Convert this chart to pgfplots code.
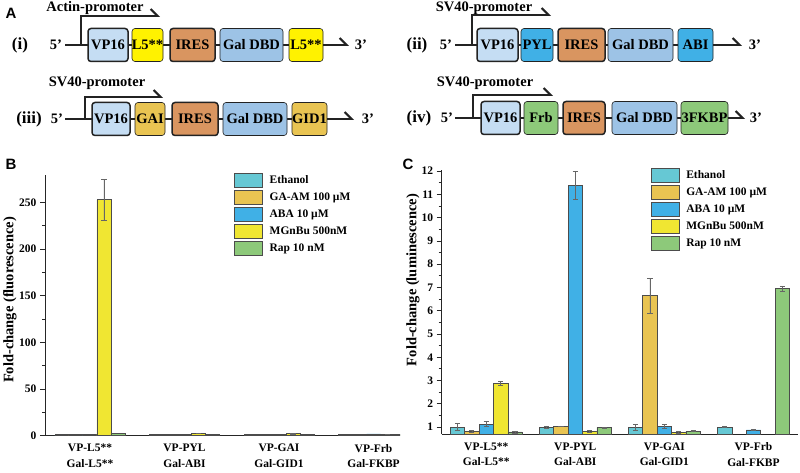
\documentclass[border=0pt]{standalone}
\usepackage{fontspec}
\setmainfont{Liberation Serif}
\newfontfamily\sansbf{Liberation Sans}
\usepackage{pgfplots}
\pgfplotsset{compat=1.18}
\usetikzlibrary{arrows.meta}
\definecolor{vpblue}{RGB}{197,221,243}
\definecolor{galblue}{RGB}{157,195,230}
\definecolor{iresc}{RGB}{217,149,96}
\definecolor{lyellow}{RGB}{255,242,0}
\definecolor{goldc}{RGB}{233,196,82}
\definecolor{pylc}{RGB}{64,176,230}
\definecolor{frbc}{RGB}{141,201,122}
\definecolor{ethc}{RGB}{102,200,212}
\definecolor{mgc}{RGB}{240,230,50}
\definecolor{linec}{RGB}{35,35,35}

% x1, x2, yc, fill, linewidth, text
\newcommand{\gbox}[6]{%
  \draw[rounded corners=3pt, fill=#4, draw=linec, line width=#5] (#1,#3-16.5) rectangle (#2,#3+16.5);
  \node[inner sep=0pt] at ({(#1+#2)/2},#3) {#6};}

\tikzset{harp/.style={line width=2pt, linec, -{Straight Barb[harpoon,length=7pt,width=14pt,line width=2pt]}}}

\pgfplotsset{
  errb/.style={/pgfplots/error bars/y dir=both, /pgfplots/error bars/y explicit,
    /pgfplots/error bars/error bar style={line width=0.6pt, black!60},
    /pgfplots/error bars/error mark options={rotate=90, mark size=2.6pt, line width=0.6pt, black!60}},
  barchart/.style={
    scale only axis,
    axis x line*=bottom, axis y line*=left,
    axis line style={line width=1pt, black!85},
    tick style={line width=0.8pt, black!85},
    tick align=outside, major tick length=5pt, minor tick length=3pt,
    ybar=0pt,
    legend image code/.code={\draw[##1, line width=0.6pt, draw=black!70] (0pt,-7pt) rectangle (28pt,7pt);},
    legend cell align=left,
    legend style={draw=none, fill=none, inner sep=0pt, row sep=2.5pt,
      nodes={inner sep=1pt},
      font=\bfseries\fontsize{11.5}{13}\selectfont,
      /tikz/every odd column/.append style={column sep=6pt}},
    /pgf/number format/assume math mode=true,
    yticklabel style={font=\bfseries\fontsize{11.5}{13}\selectfont},
    xticklabel style={font=\bfseries\fontsize{11.5}{15.5}\selectfont, align=center},
    xtick={0,1,2,3},
    xticklabels={{VP-L5**\\Gal-L5**},{VP-PYL\\Gal-ABI},{VP-GAI\\Gal-GID1},{VP-Frb\\Gal-FKBP}},
    major x tick style={draw=none},
    ylabel style={font=\bfseries\fontsize{14.5}{16}\selectfont, anchor=center},
  }
}

\begin{document}
\begin{tikzpicture}
\useasboundingbox (0,0) rectangle (800pt,-473pt);
\begin{scope}[x=1pt,y=-1pt, font=\bfseries\fontsize{14.5}{16}\selectfont]
  % panel letters
  \node[font=\sansbf\bfseries\fontsize{15}{17}\selectfont] at (11,13) {A};
  \node[font=\sansbf\bfseries\fontsize{15}{17}\selectfont] at (11,164) {B};
  \node[font=\sansbf\bfseries\fontsize{15}{17}\selectfont] at (408,164) {C};

  % ---------- row (i)
  \node[font=\bfseries\fontsize{17}{19}\selectfont] at (20,45) {(i)};
  \node at (56,45) {5'};
  \draw[line width=2pt, linec] (65,45) -- (90,45);
  \draw[line width=1.6pt, linec] (125,45) -- (292,45);
  \draw[harp] (81,45) -- (81,16) -- (160,16);
  \node at (95,8) {Actin-promoter};
  \gbox{88}{128}{45}{vpblue}{1.5pt}{VP16}
  \gbox{132}{163}{45}{lyellow}{0.6pt}{L5**}
  \gbox{170}{215}{45}{iresc}{1.5pt}{IRES}
  \gbox{220}{283}{45}{galblue}{0.6pt}{Gal DBD}
  \gbox{289}{323}{45}{lyellow}{0.6pt}{L5**}
  \draw[harp] (323,45) -- (349,45);
  \node at (361,45) {3'};

  % ---------- row (iii)
  \node[font=\bfseries\fontsize{17}{19}\selectfont] at (29,119) {(iii)};
  \node at (57,119) {5'};
  \draw[line width=2pt, linec] (65,119) -- (94,119);
  \draw[line width=1.6pt, linec] (128,119) -- (295,119);
  \draw[harp] (85,119) -- (85,97) -- (163,97);
  \node at (97,83) {SV40-promoter};
  \gbox{92}{130}{119}{vpblue}{1.5pt}{VP16}
  \gbox{135}{165}{119}{goldc}{0.6pt}{GAI}
  \gbox{172}{218}{119}{iresc}{1.5pt}{IRES}
  \gbox{223}{287}{119}{galblue}{0.6pt}{Gal DBD}
  \gbox{292}{327}{119}{goldc}{0.6pt}{GID1}
  \draw[harp] (327,119) -- (354,119);
  \node at (368,119) {3'};

  % ---------- row (ii)
  \node[font=\bfseries\fontsize{17}{19}\selectfont] at (417,45) {(ii)};
  \node at (446,45) {5'};
  \draw[line width=2pt, linec] (455,45) -- (479,45);
  \draw[line width=1.6pt, linec] (515,45) -- (681,45);
  \draw[harp] (472,45) -- (472,15) -- (551,15);
  \node at (484,8) {SV40-promoter};
  \gbox{477}{518}{45}{vpblue}{1.5pt}{VP16}
  \gbox{521}{553}{45}{pylc}{0.6pt}{PYL}
  \gbox{558}{605}{45}{iresc}{1.5pt}{IRES}
  \gbox{608}{673}{45}{galblue}{0.6pt}{Gal DBD}
  \gbox{678}{713}{45}{pylc}{0.6pt}{ABI}
  \draw[harp] (713,45) -- (742,45);
  \node at (755,45) {3'};

  % ---------- row (iv)
  \node[font=\bfseries\fontsize{17}{19}\selectfont] at (419,118) {(iv)};
  \node at (447,118) {5'};
  \draw[line width=2pt, linec] (455,118) -- (483,118);
  \draw[line width=1.6pt, linec] (517,118) -- (684,118);
  \draw[harp] (473,118) -- (473,95) -- (553,95);
  \node at (485,83) {SV40-promoter};
  \gbox{481}{520}{118}{vpblue}{1.5pt}{VP16}
  \gbox{524}{558}{118}{frbc}{0.6pt}{Frb}
  \gbox{563}{605}{118}{iresc}{1.5pt}{IRES}
  \gbox{612}{677}{118}{galblue}{0.6pt}{Gal DBD}
  \gbox{681}{728}{118}{frbc}{0.6pt}{3FKBP}
  \draw[harp] (728,118) -- (745,118);
  \node at (756,118) {3'};
\end{scope}

% ---------------- Panel B
\begin{axis}[barchart,
  at={(45pt,-435.7pt)}, anchor=south west,
  width=355pt, height=261.1pt,
  xmin=-0.476, xmax=3.28, ymin=0, ymax=280,
  bar width=14pt,
  ytick={0,50,100,150,200,250}, minor y tick num=1,
  ylabel={Fold-change (fluorescence)},
  ylabel style={at={(axis description cs:-0.099,0.52)}},
  legend style={at={(0.532,1.008)}, anchor=north west},
]
\addplot[fill=ethc, draw=black!70, line width=0.6pt] coordinates {(0,1) (1,1) (2,1) (3,1)};
\addplot[fill=goldc, draw=black!70, line width=0.6pt] coordinates {(0,1) (1,1) (2,1.5) (3,1.6)};
\addplot[fill=pylc, draw=black!70, line width=0.6pt] coordinates {(0,1) (1,1) (2,1) (3,2)};
\addplot[fill=mgc, draw=black!70, line width=0.6pt, errb] coordinates {(0,253) +- (0,22) (1,2.6) +- (0,0.3) (2,2.3) +- (0,0.3) (3,1.3) +- (0,0.2)};
\addplot[fill=frbc, draw=black!70, line width=0.6pt] coordinates {(0,2.8) (1,1) (2,1.5) (3,1.1)};
\legend{Ethanol, GA-AM 100 µM, ABA 10 µM, MGnBu 500nM, Rap 10 nM}
\end{axis}

% ---------------- Panel C
\begin{axis}[barchart,
  at={(441.7pt,-434pt)}, anchor=south west,
  width=356.3pt, height=264pt,
  xmin=-0.5, xmax=3.5, ymin=0.7, ymax=12.05,
  bar width=14.4pt,
  ytick={1,2,...,12}, minor y tick num=1,
  ylabel={Fold-change (luminescence)},
  ylabel style={at={(axis description cs:-0.081,0.583)}},
  legend style={at={(0.586,1.01)}, anchor=north west},
]
\addplot[fill=ethc, draw=black!70, line width=0.6pt, errb] coordinates {(0,1.0) +- (0,0.15) (1,1.0) +- (0,0.05) (2,1.0) +- (0,0.12) (3,1.0) +- (0,0.03)};
\addplot[fill=goldc, draw=black!70, line width=0.6pt, errb] coordinates {(0,0.81) +- (0,0.05) (1,1.03) +- (0,0.02) (2,6.65) +- (0,0.76)};
\addplot[fill=pylc, draw=black!70, line width=0.6pt, errb] coordinates {(0,1.13) +- (0,0.1) (1,11.4) +- (0,0.6) (2,1.03) +- (0,0.07) (3,0.88) +- (0,0.03)};
\addplot[fill=mgc, draw=black!70, line width=0.6pt, errb] coordinates {(0,2.88) +- (0,0.07) (1,0.81) +- (0,0.03) (2,0.78) +- (0,0.03)};
\addplot[fill=frbc, draw=black!70, line width=0.6pt, errb] coordinates {(0,0.79) +- (0,0.04) (1,0.98) +- (0,0.02) (2,0.82) +- (0,0.02) (3,6.95) +- (0,0.12)};
\legend{Ethanol, GA-AM 100 µM, ABA 10 µM, MGnBu 500nM, Rap 10 nM}
\end{axis}
\end{tikzpicture}
\end{document}
